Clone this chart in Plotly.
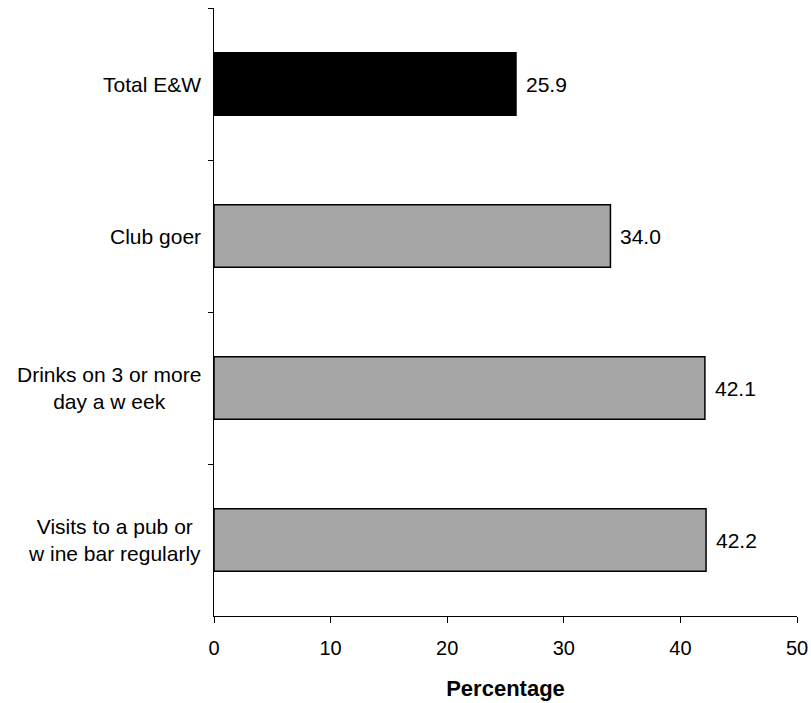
import plotly.graph_objects as go

# Categories, top to bottom
categories = [
    "Total E&W",
    "Club goer",
    "Drinks on 3 or more<br>day a w eek",
    "Visits to a pub or<br>w ine bar regularly",
]
values = [25.9, 34.0, 42.1, 42.2]
bar_colors = ["#000000", "#A6A6A6", "#A6A6A6", "#A6A6A6"]
x_ticks = [0, 10, 20, 30, 40, 50]

FONT = "Liberation Sans, Arial, sans-serif"
LABEL_SIZE = 21
TICK_SIZE = 20

fig = go.Figure(
    go.Bar(
        x=values,
        y=categories,
        orientation="h",
        marker=dict(color=bar_colors, line=dict(color="#000000", width=1.5)),
        width=0.41,
        hoverinfo="x+y",
    )
)

# Value labels to the right of each bar
for cat, v in zip(categories, values):
    fig.add_annotation(
        x=v, xref="x", y=cat, yref="y",
        text=f"{v:.1f}", showarrow=False,
        xanchor="left", xshift=8,
        font=dict(family=FONT, size=LABEL_SIZE, color="#000000"),
    )

# Category labels: centred multi-line blocks sitting just left of the axis
for cat in categories:
    fig.add_annotation(
        x=0, xref="paper", y=cat, yref="y",
        text=cat, showarrow=False,
        xanchor="right", align="center",
        xshift=-11,
        font=dict(family=FONT, size=LABEL_SIZE, color="#000000"),
    )

fig.update_layout(
    width=811, height=703,
    margin=dict(l=214, r=14, t=8, b=87, autoexpand=False),
    paper_bgcolor="white", plot_bgcolor="white",
    showlegend=False,
    font=dict(family=FONT, size=LABEL_SIZE, color="#000000"),
)

fig.update_xaxes(
    range=[0, 50], tickvals=x_ticks,
    showline=True, linecolor="#000000", linewidth=1,
    ticks="outside", ticklen=6, tickcolor="#000000",
    ticklabelstandoff=8,
    showgrid=False, zeroline=False, automargin=False,
    tickfont=dict(family=FONT, size=TICK_SIZE),
    title=dict(text="<b>Percentage</b>", font=dict(family=FONT, size=22), standoff=22),
)

fig.update_yaxes(
    categoryorder="array", categoryarray=categories, autorange="reversed",
    showline=True, linecolor="#000000", linewidth=1,
    ticks="outside", ticklen=5, tickcolor="#000000",
    tickson="boundaries", showticklabels=False,
    showgrid=False, zeroline=False, automargin=False,
)

fig.write_html("out.html")
